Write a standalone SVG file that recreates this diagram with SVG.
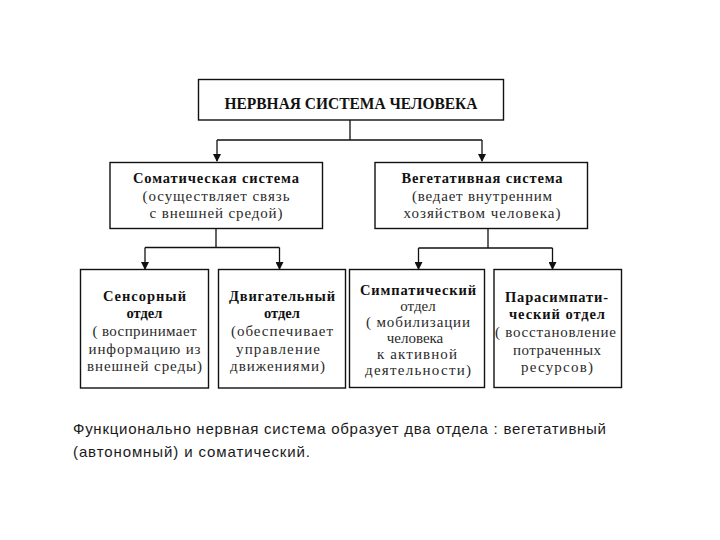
<svg xmlns="http://www.w3.org/2000/svg" width="720" height="540" viewBox="0 0 720 540">
<style>
.box{fill:#fff;stroke:#111;stroke-width:1.4}
.con{fill:none;stroke:#111;stroke-width:1.3}
text{font-family:"Liberation Serif","DejaVu Serif",serif;text-anchor:middle;fill:#2a2a2a;font-size:15px}
.b{font-weight:bold;fill:#111;font-size:14.5px}
.t{font-weight:bold;fill:#111;font-size:16px}
.cap{font-family:"Liberation Sans",Arial,sans-serif;text-anchor:start;font-size:15px;fill:#1a1a1a}
</style>
<defs>
<marker id="arr" markerWidth="8" markerHeight="8" refX="7" refY="4" orient="auto" markerUnits="userSpaceOnUse">
<path d="M0,0 L8,4 L0,8 Z" fill="#111"/>
</marker>
</defs>
<rect width="720" height="540" fill="#fff"/>
<g id="connectors">
<path class="con" d="M350,120 V140 M217,140 H482"/>
<path class="con" d="M217,140 V161" marker-end="url(#arr)"/>
<path class="con" d="M482,140 V161" marker-end="url(#arr)"/>
<path class="con" d="M216,228 V247.5 M145,247.5 H279.5"/>
<path class="con" d="M145,247.5 V269" marker-end="url(#arr)"/>
<path class="con" d="M279.5,247.5 V269" marker-end="url(#arr)"/>
<path class="con" d="M488,228 V248 M418.5,248 H552.5"/>
<path class="con" d="M418.5,248 V269" marker-end="url(#arr)"/>
<path class="con" d="M552.5,248 V269" marker-end="url(#arr)"/>
</g>
<g id="root">
<rect class="box" x="198.5" y="79.5" width="305" height="40.5"/>
<text class="t" x="351" y="109" textLength="253" lengthAdjust="spacingAndGlyphs">НЕРВНАЯ СИСТЕМА ЧЕЛОВЕКА</text>
</g>
<g id="somatic">
<rect class="box" x="110" y="162.5" width="212.5" height="66"/>
<text class="b" x="216" y="183" textLength="166">Соматическая система</text>
<text x="216" y="201" textLength="147">(осуществляет связь</text>
<text x="216" y="218" textLength="133">с внешней средой)</text>
</g>
<g id="vegetative">
<rect class="box" x="375" y="162.5" width="212.5" height="66"/>
<text class="b" x="482" y="183" textLength="161">Вегетативная система</text>
<text x="482" y="201" textLength="140">(ведает внутренним</text>
<text x="482" y="218" textLength="157">хозяйством человека)</text>
</g>
<g id="sensory">
<rect class="box" x="80.5" y="269.5" width="128" height="118.5"/>
<text class="b" x="144.5" y="301" textLength="83">Сенсорный</text>
<text class="b" x="144.5" y="318">отдел</text>
<text x="144.5" y="336" textLength="104">( воспринимает</text>
<text x="144.5" y="354" textLength="112">информацию из</text>
<text x="144.5" y="371" textLength="115">внешней среды)</text>
</g>
<g id="motor">
<rect class="box" x="218.5" y="269.5" width="127" height="118.5"/>
<text class="b" x="282" y="301" textLength="106">Двигательный</text>
<text class="b" x="282" y="318">отдел</text>
<text x="282" y="336" textLength="102">(обеспечивает</text>
<text x="278" y="354" textLength="84">управление</text>
<text x="277.5" y="371" textLength="95">движениями)</text>
</g>
<g id="sympathetic">
<rect class="box" x="349.5" y="269.5" width="135" height="118"/>
<text class="b" x="418" y="295" textLength="116">Симпатический</text>
<text x="418" y="311">отдел</text>
<text x="418" y="327" textLength="104">( мобилизации</text>
<text x="415" y="343">человека</text>
<text x="417" y="359" textLength="80">к активной</text>
<text x="418" y="375" textLength="106">деятельности)</text>
</g>
<g id="parasympathetic">
<rect class="box" x="494" y="269.5" width="127.5" height="118"/>
<text class="b" x="556.5" y="302" textLength="103">Парасимпати-</text>
<text class="b" x="557" y="319" textLength="96">ческий отдел</text>
<text x="555.5" y="337" textLength="121">( восстановление</text>
<text x="557" y="355" textLength="88">потраченных</text>
<text x="557" y="372" textLength="72">ресурсов)</text>
</g>
<text class="cap" x="73" y="434" textLength="533">Функционально нервная система образует два отдела : вегетативный</text>
<text class="cap" x="73" y="457" textLength="237">(автономный) и соматический.</text>
</svg>
